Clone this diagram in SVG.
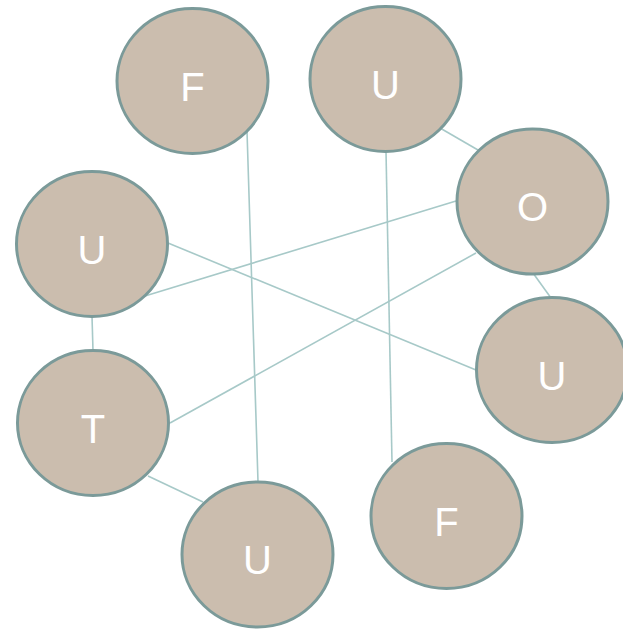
<svg xmlns="http://www.w3.org/2000/svg" width="623" height="630" viewBox="0 0 623 630">
<style>
.n{fill:#cbbdae;stroke:#7b9a99;stroke-width:3}
.t{fill:#ffffff;font-family:"Liberation Sans",Arial,sans-serif;font-size:40px;text-anchor:middle}
.c{stroke:#a7c9c8;stroke-width:1.6;fill:none}
</style>
<rect width="623" height="630" fill="#ffffff"/>
<g id="connectors">
<line class="c" x1="247" y1="131" x2="258" y2="482"/>
<line class="c" x1="386" y1="151" x2="392" y2="462"/>
<line class="c" x1="440" y1="128" x2="478" y2="150"/>
<line class="c" x1="456" y1="201" x2="145" y2="296"/>
<line class="c" x1="476" y1="253" x2="170" y2="423"/>
<line class="c" x1="533" y1="273" x2="551" y2="298"/>
<line class="c" x1="168" y1="243" x2="476" y2="370"/>
<line class="c" x1="92" y1="316" x2="93" y2="351"/>
<line class="c" x1="148" y1="476" x2="203" y2="502"/>
</g>
<g id="n1"><ellipse class="n" cx="192.5" cy="81" rx="75.5" ry="72.5"/><text class="t" x="192.5" y="101">F</text></g>
<g id="n2"><ellipse class="n" cx="385.5" cy="79" rx="75.5" ry="72.5"/><text class="t" x="385.5" y="99">U</text></g>
<g id="n3"><ellipse class="n" cx="532.5" cy="201.5" rx="75.5" ry="72.5"/><text class="t" x="532.5" y="221">O</text></g>
<g id="n4"><ellipse class="n" cx="92" cy="244" rx="75.5" ry="72.5"/><text class="t" x="92" y="264">U</text></g>
<g id="n5"><ellipse class="n" cx="552" cy="370" rx="75.5" ry="72.5"/><text class="t" x="552" y="390">U</text></g>
<g id="n6"><ellipse class="n" cx="93" cy="423" rx="75.5" ry="72.5"/><text class="t" x="93" y="443">T</text></g>
<g id="n7"><ellipse class="n" cx="446.5" cy="516" rx="75.5" ry="72.5"/><text class="t" x="446.5" y="536">F</text></g>
<g id="n8"><ellipse class="n" cx="257.5" cy="554.5" rx="75.5" ry="72.5"/><text class="t" x="257.5" y="574">U</text></g>
</svg>
